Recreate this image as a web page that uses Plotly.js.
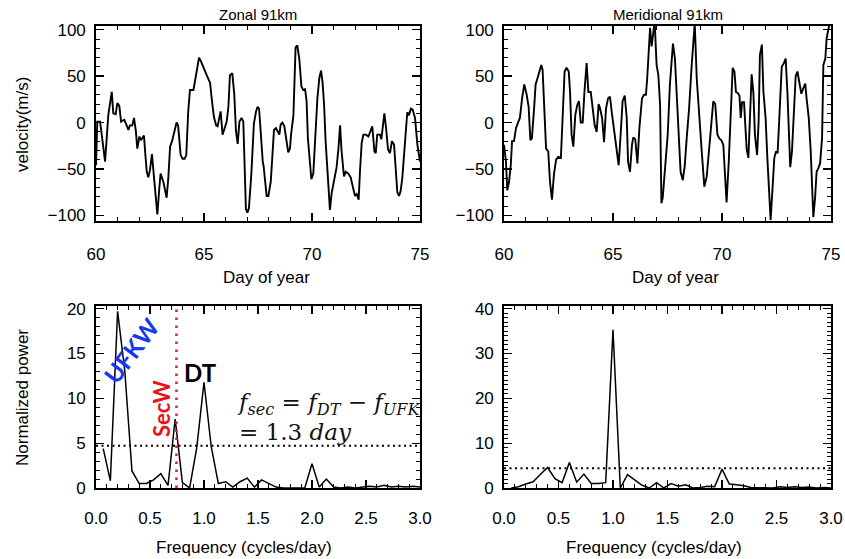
<!DOCTYPE html>
<html><head><meta charset="utf-8">
<script src="https://cdn.plot.ly/plotly-3.0.1.min.js"></script>
<style>html,body{margin:0;padding:0;background:#fff}#chart{width:845px;height:559px}</style>
</head><body><div id="chart"></div>
<script>
// ---- Zonal wind 91 km (day of year, m/s)
const zonalDay = [60.00,60.06,60.19,60.42,60.57,60.73,60.80,60.91,60.99,61.08,61.16,61.31,61.42,61.50,61.57,61.68,61.76,61.85,61.91,62.01,62.08,62.22,62.28,62.35,62.42,62.50,62.59,62.69,62.84,62.93,62.99,63.12,63.27,63.35,63.43,63.52,63.63,63.73,63.80,63.92,64.01,64.10,64.18,64.27,64.35,64.51,64.66,64.77,64.86,64.97,65.09,65.20,65.28,65.37,65.46,65.56,65.63,65.77,65.86,65.97,66.05,66.13,66.20,66.31,66.40,66.48,66.56,66.64,66.74,66.82,66.88,66.94,67.01,67.08,67.19,67.31,67.41,67.48,67.55,67.64,67.72,67.76,67.90,67.98,68.09,68.16,68.24,68.33,68.41,68.49,68.55,68.63,68.72,68.83,68.90,68.98,69.03,69.14,69.20,69.24,69.32,69.41,69.51,69.60,69.68,69.75,69.81,69.88,69.97,70.06,70.14,70.25,70.34,70.42,70.49,70.56,70.63,70.76,70.83,70.91,70.99,71.14,71.22,71.30,71.37,71.48,71.56,71.68,71.79,71.91,71.99,72.07,72.16,72.22,72.30,72.38,72.50,72.61,72.70,72.79,72.89,72.95,73.02,73.15,73.21,73.27,73.35,73.43,73.52,73.61,73.70,73.80,73.87,73.95,74.03,74.10,74.18,74.26,74.35,74.41,74.49,74.58,74.66,74.77,74.88,75.00];
const zonalVel = [-46,1,1,-42,8,33,10,9,21,18,1,3,-3,-8,-3,-3,5,-10,-28,-15,-19,-14,-33,-53,-59,-51,-34,-59,-99,-71,-55,-64,-81,-59,-26,-20,-10,0,-3,-35,-39,-39,-35,12,35,35,55,70,66,59,53,47,43,23,6,-3,-4,12,-13,-5,1,17,51,53,31,-9,-23,1,5,1,-46,-93,-97,-92,-56,-1,12,17,15,-17,-42,-47,-79,-79,-64,-38,-8,-6,-10,-13,-2,0,-4,-21,-32,-28,-13,8,44,81,83,69,39,35,36,23,-17,-33,-61,-55,-20,26,48,56,43,19,-20,-74,-94,-76,-65,-48,-29,-3,-31,-58,-53,-55,-59,-70,-79,-77,-83,-53,-22,-13,-13,-15,-10,-4,-31,-33,-13,-13,-18,-3,10,-6,-29,-33,-20,-24,-46,-75,-79,-74,-60,-31,1,11,8,15,14,5,-24,-42];

// ---- Meridional wind 91 km
const meridDay = [60.00,60.09,60.15,60.23,60.31,60.37,60.46,60.55,60.66,60.73,60.83,60.93,61.04,61.13,61.21,61.28,61.38,61.45,61.54,61.62,61.71,61.77,61.85,61.93,62.03,62.11,62.20,62.29,62.39,62.49,62.61,62.69,62.78,62.87,62.97,63.03,63.10,63.18,63.27,63.36,63.44,63.52,63.61,63.69,63.75,63.79,63.87,63.98,64.07,64.16,64.25,64.34,64.40,64.50,64.59,64.68,64.77,64.86,64.95,65.05,65.17,65.26,65.35,65.44,65.54,65.63,65.69,65.78,65.87,65.93,66.02,66.12,66.21,66.33,66.42,66.51,66.57,66.64,66.70,66.77,66.85,66.91,67.00,67.08,67.16,67.22,67.28,67.39,67.51,67.61,67.69,67.75,67.84,67.92,68.03,68.10,68.20,68.29,68.38,68.49,68.61,68.69,68.75,68.84,68.96,69.07,69.19,69.30,69.40,69.53,69.60,69.69,69.79,69.88,69.97,70.06,70.15,70.21,70.31,70.41,70.49,70.57,70.64,70.72,70.80,70.86,70.92,71.01,71.07,71.13,71.21,71.28,71.36,71.44,71.51,71.61,71.68,71.74,71.83,71.90,72.00,72.08,72.17,72.23,72.31,72.40,72.48,72.55,72.63,72.74,72.84,72.92,73.00,73.07,73.13,73.21,73.30,73.38,73.46,73.55,73.64,73.73,73.82,73.88,73.98,74.07,74.13,74.19,74.27,74.34,74.42,74.50,74.59,74.65,74.74,74.80,74.92];
const meridVel = [-24,-42,-73,-64,-46,-20,-20,-6,1,5,26,41,30,17,-19,-17,15,41,48,56,62,57,5,-28,-31,-64,-83,-56,-40,-37,-38,1,55,59,55,33,-13,-26,8,19,23,0,0,33,53,64,33,33,15,-3,-10,20,16,5,-21,15,26,28,10,-10,-31,-46,-13,23,29,5,-42,-53,-24,-16,-18,-44,-6,26,30,30,48,84,102,82,102,109,62,51,19,-87,-81,-49,-13,41,73,85,69,26,-24,-53,-62,-47,-17,15,62,91,107,48,1,-31,-69,-58,-31,5,23,20,-13,-17,-19,-24,-56,-86,-42,12,59,55,33,32,29,5,22,22,-10,-28,-38,3,52,32,-13,-35,1,73,84,33,5,-38,-85,-105,-74,-38,-31,-33,5,60,64,69,33,-10,-48,-31,21,50,55,42,31,37,42,26,5,-31,-76,-102,-81,-53,-49,-44,-17,62,69,91,105];

// ---- Normalized power spectra (cycles/day)
const freq = [0.067,0.133,0.2,0.267,0.333,0.4,0.467,0.533,0.6,0.667,0.733,0.8,0.867,0.933,1.0,1.067,1.133,1.2,1.267,1.333,1.4,1.467,1.533,1.6,1.667,1.733,1.8,1.867,1.933,2.0,2.067,2.133,2.2,2.267,2.333,2.4,2.467,2.533,2.6,2.667,2.733,2.8,2.867,2.933,3.0];
const zonalPower = [4.4,0.8,19.7,13.0,1.9,0.5,0.5,0.9,1.6,0.3,7.7,0.6,0.0,4.5,11.8,4.6,0.5,0.7,0.1,0.7,1.1,0.1,0.9,0.5,0.1,0.0,0.0,0.0,0.0,2.7,0.1,1.0,0.1,0.0,0.1,0.0,0.1,0.2,0.1,0.3,0.1,0.2,0.1,0.2,0.1];
const meridPower = [0.0,0.3,0.9,1.4,3.0,4.6,2.1,1.2,5.7,1.3,3.1,1.0,1.0,1.2,35.3,0.0,3.0,1.8,0.6,0.0,1.2,0.0,1.0,0.4,0.7,0.0,0.1,0.4,0.3,4.2,0.9,0.7,0.5,0.1,0.1,0.1,0.0,0.3,0.1,0.3,0.1,0.2,0.0,0.1,0.0];
const zonalSig = 4.7;
const meridSig = 4.4;
const secwFreq = 0.745;

const W = 845, H = 559;
const px = v => v / W, py = v => 1 - v / H;
const tickFont = {family: 'Liberation Sans, Arial, sans-serif', size: 17, color: '#000'};

function axX(dom, rng, dt, mdt, standoff) {
  return {domain: dom, range: rng, dtick: dt, tick0: 0, ticks: 'inside', ticklen: 8, tickwidth: 1.3, tickcolor: '#000',
    minor: {dtick: mdt, ticks: 'inside', ticklen: 4, tickwidth: 1, tickcolor: '#000'},
    showline: true, linecolor: '#000', linewidth: 1.8, mirror: 'allticks', showgrid: false, zeroline: false,
    tickfont: tickFont, ticklabelstandoff: standoff, fixedrange: true};
}
function axY(dom, rng, dt, mdt, anchor) {
  return {domain: dom, range: rng, dtick: dt, tick0: 0, ticks: 'inside', ticklen: 8, tickwidth: 1.3, tickcolor: '#000',
    minor: {dtick: mdt, ticks: 'inside', ticklen: 4, tickwidth: 1, tickcolor: '#000'},
    showline: true, linecolor: '#000', linewidth: 1.8, mirror: 'allticks', showgrid: false, zeroline: false,
    tickfont: tickFont, ticklabelstandoff: 5, anchor: anchor, fixedrange: true};
}

const xL = [px(96), px(420)], xR = [px(504), px(831)];
const yT = [py(221), py(26)], yB = [py(488), py(306)];

const traces = [
  {x: zonalDay, y: zonalVel, xaxis: 'x', yaxis: 'y', mode: 'lines', line: {color: '#000', width: 1.9}},
  {x: meridDay, y: meridVel, xaxis: 'x2', yaxis: 'y2', mode: 'lines', line: {color: '#000', width: 1.9}},
  {x: freq, y: zonalPower, xaxis: 'x3', yaxis: 'y3', mode: 'lines', line: {color: '#000', width: 1.5}},
  {x: freq, y: meridPower, xaxis: 'x4', yaxis: 'y4', mode: 'lines', line: {color: '#000', width: 1.5}}
];

const lblFont = {family: 'Liberation Sans, Arial, sans-serif', size: 17, color: '#000'};
const ttlFont = {family: 'Liberation Sans, Arial, sans-serif', size: 15, color: '#000'};
function ann(text, x, y, font, extra) {
  return Object.assign({text: text, x: px(x), y: py(y), xref: 'paper', yref: 'paper', xanchor: 'center', yanchor: 'middle', showarrow: false, font: font}, extra || {});
}
const annotations = [
  ann('Zonal 91km', 258, 14, ttlFont),
  ann('Meridional 91km', 668, 14, ttlFont),
  ann('Day of year', 266, 278, lblFont),
  ann('Day of year', 675, 278, lblFont),
  ann('Frequency (cycles/day)', 244, 547, lblFont),
  ann('Frequency (cycles/day)', 654, 547, lblFont),
  ann('velocity(m/s)', 22, 125, lblFont, {textangle: -90}),
  ann('Normalized power', 22, 398, lblFont, {textangle: -90}),
  ann('UFKW', 131, 350, {family: 'Lato, Open Sans, sans-serif', size: 24, color: '#1438f0', weight: 'bold'}, {textangle: -53}),
  ann('SecW', 161, 409, {family: 'Lato, Open Sans, sans-serif', size: 22, color: '#e8141c', weight: 'bold'}, {textangle: -90}),
  ann('DT', 200, 372, {family: 'Lato, Open Sans, sans-serif', size: 24, color: '#000', weight: 'bold'}),
  ann('<i>f</i><sub><i>sec</i></sub> = <i>f</i><sub><i>DT</i></sub> − <i>f</i><sub><i>UFK</i></sub><br>= 1.3 <i>day</i>', 235, 417,
      {family: 'DejaVu Serif, serif', size: 23, color: '#111'}, {xanchor: 'left', align: 'left'})
];

const shapes = [
  {type: 'line', xref: 'x3 domain', yref: 'y3', x0: 0, x1: 1, y0: zonalSig, y1: zonalSig, line: {color: '#000', width: 2, dash: '2px,3.5px'}},
  {type: 'line', xref: 'x4 domain', yref: 'y4', x0: 0, x1: 1, y0: meridSig, y1: meridSig, line: {color: '#000', width: 2, dash: '2px,3.5px'}},
  {type: 'line', xref: 'x3', yref: 'y3 domain', x0: secwFreq, x1: secwFreq, y0: 0, y1: 1, line: {color: '#d8202a', width: 2.5, dash: '2.5px,5.5px'}}
];

const layout = {
  width: W, height: H, margin: {l: 0, r: 0, t: 0, b: 0}, showlegend: false,
  paper_bgcolor: '#fff', plot_bgcolor: '#fff',
  xaxis: Object.assign(axX(xL, [60, 75], 5, 1, 17), {anchor: 'y'}), yaxis: axY(yT, [-106, 104], 50, 10, 'x'),
  xaxis2: Object.assign(axX(xR, [60, 75], 5, 1, 17), {anchor: 'y2'}), yaxis2: axY(yT, [-106, 104], 50, 10, 'x2'),
  xaxis3: Object.assign(axX(xL, [0, 3], 0.5, 0.1, 14), {anchor: 'y3', tickformat: '.1f'}), yaxis3: axY(yB, [0, 20.3], 5, 1, 'x3'),
  xaxis4: Object.assign(axX(xR, [0, 3], 0.5, 0.1, 14), {anchor: 'y4', tickformat: '.1f'}), yaxis4: axY(yB, [0, 40.6], 10, 1, 'x4'),
  annotations: annotations, shapes: shapes
};

Plotly.newPlot('chart', traces, layout, {displayModeBar: false, staticPlot: true});
</script></body></html>
